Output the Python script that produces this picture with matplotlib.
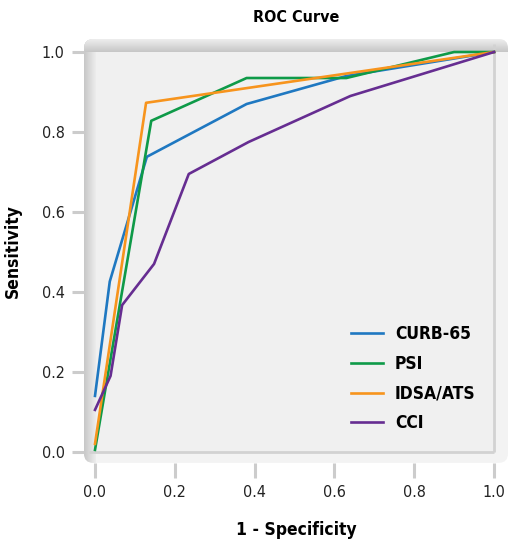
import numpy as np
import matplotlib.pyplot as plt
from matplotlib.patches import FancyBboxPatch

# ROC points
curb_x = [0.0, 0.037, 0.13, 0.38, 0.63, 1.0]
curb_y = [0.14, 0.426, 0.738, 0.87, 0.94, 1.0]
psi_x = [0.0, 0.141, 0.38, 0.63, 0.9, 1.0]
psi_y = [0.005, 0.828, 0.935, 0.935, 1.0, 1.0]
idsa_x = [0.0, 0.128, 1.0]
idsa_y = [0.02, 0.873, 1.0]
cci_x = [0.0, 0.039, 0.068, 0.148, 0.235, 0.385, 0.64, 1.0]
cci_y = [0.105, 0.19, 0.367, 0.47, 0.695, 0.775, 0.89, 1.0]

labels = ['CURB-65', 'PSI', 'IDSA/ATS', 'CCI']
colors = ['#1f78c1', '#0e9a48', '#f7941d', '#662d91']
ticks = [0.0, 0.2, 0.4, 0.6, 0.8, 1.0]

plt.rcParams['font.family'] = ['DejaVu Sans']
plt.rcParams['font.stretch'] = 'condensed'

fig = plt.figure(figsize=(5.09, 5.42), dpi=100)
ax = fig.add_axes([0.165, 0.146, 0.833, 0.782])
ax.patch.set_visible(False)
x0, x1 = -0.0276, 1.035
y0, y1 = -0.0275, 1.0325
ax.set_xlim(x0, x1)
ax.set_ylim(y0, y1)

# rounded panel background
box = FancyBboxPatch((0, 0), 1, 1, boxstyle='round,pad=0,rounding_size=0.022',
                     transform=ax.transAxes, facecolor='#f3f3f3', edgecolor='none', zorder=0)
ax.add_patch(box)
# inner plotting area
ax.fill_between([x0, 1.0], 0, 1.02, color='#f0f0f0', zorder=0.5, lw=0)

# gradient bands on left and top (bevel look)
g = np.linspace(0.78, 0.93, 32)
left = np.tile(g[None, :, None], (2, 1, 3))
im1 = ax.imshow(left, extent=[x0, 0.0, y0, y1], aspect='auto', zorder=1, interpolation='bilinear')
top = np.tile(g[::-1][:, None, None], (1, 2, 3))
im2 = ax.imshow(top, extent=[x0, x1, 1.0, y1], aspect='auto', zorder=1.1, interpolation='bilinear')
im1.set_clip_path(box)
im2.set_clip_path(box)
ax.set_xlim(x0, x1)
ax.set_ylim(y0, y1)

# thin lines closing the plot area on the right and bottom
ax.plot([x0 + 0.012, 1.0], [0, 0], color='#d2d2d2', lw=2, zorder=1.5, solid_capstyle='butt')
ax.plot([1.0, 1.0], [0, 1.02], color='#d2d2d2', lw=2, zorder=1.5, solid_capstyle='butt')

xs = [curb_x, psi_x, idsa_x, cci_x]
ys = [curb_y, psi_y, idsa_y, cci_y]
for x, y, lab, c in zip(xs, ys, labels, colors):
    ax.plot(x, y, color=c, lw=1.9, label=lab, zorder=3)

ax.set_xticks(ticks)
ax.set_yticks(ticks)
ax.set_xticklabels([f'{t:.1f}' for t in ticks], fontsize=11.5, color='#222222')
ax.set_yticklabels([f'{t:.1f}' for t in ticks], fontsize=11.5, color='#222222')
ax.tick_params(axis='x', length=11, width=2.2, color='#cccccc', pad=5)
ax.tick_params(axis='y', length=9, width=2.2, color='#cccccc', pad=5)
for s in ax.spines.values():
    s.set_visible(False)

ax.set_title('ROC Curve', fontsize=11.5, fontweight='bold', pad=12)
ax.set_xlabel('1 - Specificity', fontsize=12.5, fontweight='bold', labelpad=15)
ax.set_ylabel('Sensitivity', fontsize=12.5, fontweight='bold', labelpad=14)

leg = ax.legend(loc='lower right', frameon=False, fontsize=12.5, handlelength=1.8,
                handletextpad=0.7, labelspacing=0.68, bbox_to_anchor=(0.96, 0.035))
for t in leg.get_texts():
    t.set_fontweight('bold')

fig.savefig('out.png', dpi=100)
